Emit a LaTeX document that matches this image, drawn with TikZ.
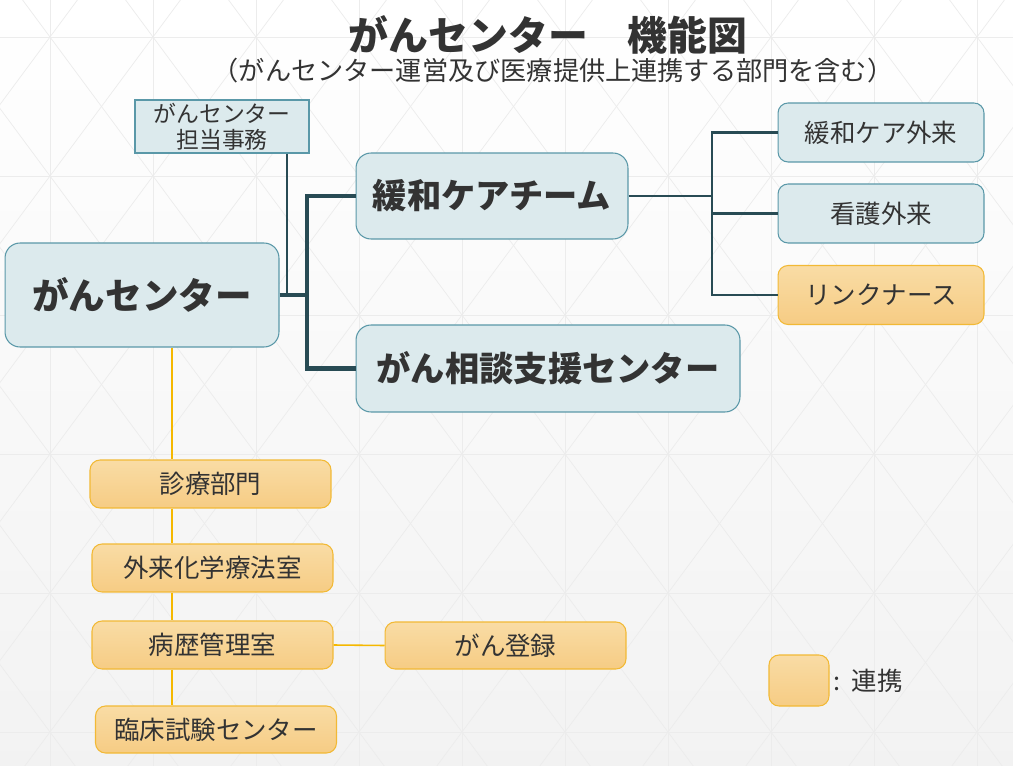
\documentclass[tikz,border=0pt]{standalone}
\usepackage{fontspec}
\setmainfont{Noto Sans CJK JP}
\usepackage{xcolor}
\usetikzlibrary{calc}
\definecolor{boxblue}{HTML}{DCEAED}
\definecolor{edgeblue}{HTML}{5A98A8}
\definecolor{trunkgreen}{HTML}{284B54}
\definecolor{orangetop}{HTML}{F9DCA5}
\definecolor{orangebot}{HTML}{F6CC84}
\definecolor{orangeedge}{HTML}{F2B935}
\definecolor{tieorange}{HTML}{F5B800}
\definecolor{inktext}{HTML}{333333}
\definecolor{gridgray}{HTML}{ECECEC}
\tikzset{
  bbox/.style={draw=edgeblue, fill=boxblue, text=inktext, line width=0.6pt,
               inner sep=0pt, rounded corners=0.2cm},
  obox/.style={draw=orangeedge, top color=orangetop, bottom color=orangebot,
               text=inktext, line width=0.6pt, inner sep=0pt, rounded corners=0.2cm},
  bigfont/.style={font=\bfseries\fontsize{20.8}{24}\selectfont},
  midfont/.style={font=\bfseries\fontsize{19.5}{23}\selectfont},
  smallfont/.style={font=\fontsize{14.5}{17}\selectfont},
  rightbox/.style={minimum width=4.12cm, minimum height=1.18cm, smallfont},
  colbox/.style={minimum width=4.82cm, minimum height=0.96cm, smallfont},
  trunk/.style={draw=trunkgreen, line width=2.5pt},
  branch/.style={draw=trunkgreen, line width=1.2pt},
  tieline/.style={draw=tieorange, line width=0.9pt},
}
\begin{document}
\begin{tikzpicture}[x={(0.02cm,0)}, y={(0,-0.02cm)}]
  % background with faint triangle grid
  \useasboundingbox (0,0) rectangle (1013,766);
  \shade[top color=white, bottom color=black!5] (0,0) rectangle (1013,766);
  \begin{scope}
    \clip (0,0) rectangle (1013,766);
    \foreach \gx in {-53,50,...,1080} \draw[gridgray, line width=0.4pt] (\gx,0) -- (\gx,766);
    \foreach \gy in {37,176,...,766} \draw[gridgray, line width=0.4pt] (0,\gy) -- (1013,\gy);
    \foreach \gx in {-774,-671,...,1801} {
      \draw[gridgray, line width=0.4pt] (\gx,-102) -- ++(721,973);
      \draw[gridgray, line width=0.4pt] (\gx,-102) -- ++(-721,973);
    }
  \end{scope}

  % title
  \node[font=\bfseries\fontsize{22.7}{26}\selectfont, text=inktext] (title) at (548,35) {がんセンター　機能図};
  \node[font=\fontsize{14.9}{18}\selectfont, text=inktext] (subtitle) at (553,71) {（がんセンター運営及び医療提供上連携する部門を含む）};

  % blue boxes
  \node[bbox, rounded corners=0pt, minimum width=3.48cm, minimum height=1.06cm, align=center,
        font=\fontsize{13}{14.7}\selectfont] (jimu) at (222,126.5) {がんセンター\\担当事務};
  \node[bbox, rounded corners=0.3cm, minimum width=5.48cm, minimum height=2.08cm, bigfont] (center) at (142,295) {がんセンター};
  \node[bbox, rounded corners=0.3cm, minimum width=5.44cm, minimum height=1.72cm, midfont] (kanwa) at (492,196) {緩和ケアチーム};
  \node[bbox, rounded corners=0.3cm, minimum width=7.68cm, minimum height=1.74cm, midfont] (soudan) at (548,368.5) {がん相談支援センター};
  \node[bbox, rightbox] (gairai) at (881,132.5) {緩和ケア外来};
  \node[bbox, rightbox] (kango) at (881,213.5) {看護外来};

  % orange boxes
  \node[obox, rightbox] (nurse) at (881,295) {リンクナース};
  \node[obox, colbox] (shinryo) at (210.5,484) {診療部門};
  \node[obox, colbox] (kagaku) at (212.5,568) {外来化学療法室};
  \node[obox, colbox] (rekishi) at (212.5,645) {病歴管理室};
  \node[obox, colbox, minimum height=0.94cm] (chiken) at (216,729.5) {臨床試験センター};
  \node[obox, colbox, minimum height=0.94cm] (touroku) at (505.5,645.5) {がん登録};

  % legend
  \node[obox, minimum width=1.2cm, minimum height=1.02cm] (legend) at (799,680.5) {};
  \node[anchor=west, smallfont, text=inktext, inner sep=0pt] (legtext) at (833,681) {:\hspace{0.45em}連携};

  % connectors
  \coordinate (hub) at (307,295);
  \coordinate (jimudrop) at (287,294);
  \draw[branch] (jimu.south -| jimudrop) -- (jimudrop);
  \draw[trunk] (center.east) -- ($(hub)+(2,0)$);
  \draw[trunk] (kanwa.west) -| (hub) |- (soudan.west);

  \coordinate (rhub) at (712,196);
  \draw[branch] (kanwa.east) -- (rhub);
  \draw[branch] (gairai.west) -| (rhub) |- (nurse.west);
  \draw[branch] (kango.west) -- (kango.west -| rhub);

  \coordinate (drop) at (172,347);
  \draw[tieline] (center.south -| drop) -- (shinryo.north -| drop);
  \draw[tieline] (shinryo.south -| drop) -- (kagaku.north -| drop);
  \draw[tieline] (kagaku.south -| drop) -- (rekishi.north -| drop);
  \draw[tieline] (rekishi.south -| drop) -- (chiken.north -| drop);
  \draw[tieline] (rekishi.east) -- (touroku.west);
\end{tikzpicture}
\end{document}
